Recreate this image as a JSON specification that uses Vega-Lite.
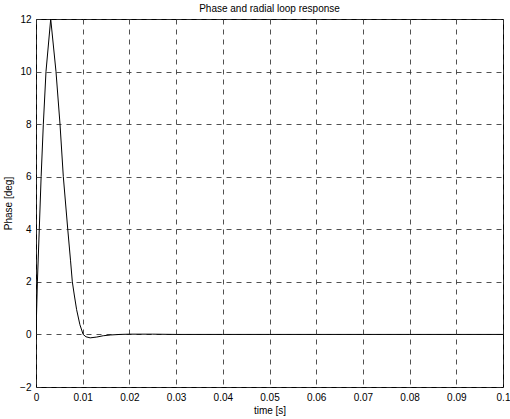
{
  "$schema": "https://vega.github.io/schema/vega-lite/v6.json",
  "autosize": {"type": "none"},
  "padding": {"left": 36, "top": 19, "right": 7, "bottom": 32},
  "width": 467,
  "height": 368,
  "background": "white",
  "title": {"text": "Phase and radial loop response", "fontSize": 10, "fontWeight": "normal", "font": "Liberation Sans", "color": "#000", "offset": 0},
  "config": {
    "view": {"stroke": "#000", "strokeWidth": 1},
    "axis": {
      "labelFont": "Liberation Sans", "labelFontSize": 10, "labelColor": "#000",
      "titleFont": "Liberation Sans", "titleFontSize": 10, "titleFontWeight": "normal", "titleColor": "#000",
      "grid": true, "gridColor": "#333", "gridDash": [5, 5], "gridOpacity": 0.85, "gridWidth": 1,
      "domain": false, "ticks": false, "labelOverlap": false, "labelFlush": false
    }
  },
  "data": {"values": [
    {"t": 0, "v": 0}, {"t": 0.00015, "v": 1}, {"t": 0.0003, "v": 2}, {"t": 0.0007, "v": 4},
    {"t": 0.0011, "v": 6}, {"t": 0.00157, "v": 8}, {"t": 0.00214, "v": 10}, {"t": 0.00315, "v": 12},
    {"t": 0.00428, "v": 10}, {"t": 0.00514, "v": 8}, {"t": 0.00585, "v": 6}, {"t": 0.0068, "v": 4},
    {"t": 0.0074, "v": 2.8}, {"t": 0.00778, "v": 2}, {"t": 0.0082, "v": 1.5}, {"t": 0.0087, "v": 0.94},
    {"t": 0.0094, "v": 0.37}, {"t": 0.0101, "v": 0}, {"t": 0.0107, "v": -0.09}, {"t": 0.0116, "v": -0.13},
    {"t": 0.013, "v": -0.1}, {"t": 0.0144, "v": -0.05}, {"t": 0.016, "v": -0.02}, {"t": 0.018, "v": 0},
    {"t": 0.02, "v": 0.01}, {"t": 0.025, "v": 0.01}, {"t": 0.03, "v": 0}, {"t": 0.04, "v": 0},
    {"t": 0.05, "v": 0}, {"t": 0.06, "v": 0}, {"t": 0.07, "v": 0}, {"t": 0.08, "v": 0},
    {"t": 0.09, "v": 0}, {"t": 0.1, "v": 0}
  ]},
  "mark": {"type": "line", "color": "#000", "strokeWidth": 1, "clip": true},
  "encoding": {
    "x": {"field": "t", "type": "quantitative", "title": "time [s]",
      "scale": {"domain": [0, 0.1], "nice": false, "zero": false},
      "axis": {"values": [0, 0.01, 0.02, 0.03, 0.04, 0.05, 0.06, 0.07, 0.08, 0.09, 0.1], "format": ".2~f", "labelPadding": 5, "titlePadding": 3}},
    "y": {"field": "v", "type": "quantitative", "title": "Phase [deg]",
      "scale": {"domain": [-2, 12], "nice": false, "zero": false},
      "axis": {"values": [-2, 0, 2, 4, 6, 8, 10, 12], "labelPadding": 5, "titlePadding": 6}}
  }
}
